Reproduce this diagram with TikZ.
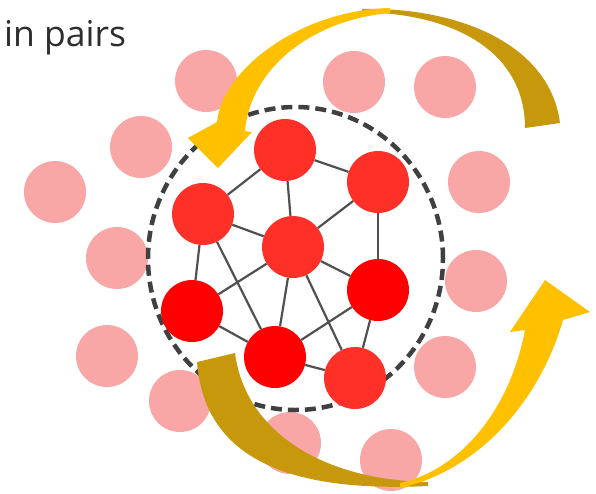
\documentclass[tikz,border=0pt]{standalone}
\usepackage{fontspec}
\setmainfont{Open Sans}
\definecolor{pinkc}{RGB}{248,166,166}
\definecolor{redc}{RGB}{255,48,40}
\definecolor{deepc}{RGB}{255,0,0}
\definecolor{edgec}{RGB}{80,80,80}
\definecolor{dashc}{RGB}{64,64,64}
\definecolor{yellowc}{RGB}{255,192,0}
\definecolor{goldc}{RGB}{200,152,12}
\definecolor{textc}{RGB}{45,45,45}
\begin{document}
\begin{tikzpicture}[x=1pt,y=-1pt,
  pinkdot/.style={circle,fill=pinkc,minimum size=62pt,inner sep=0pt},
  reddot/.style={circle,fill=redc,minimum size=62pt,inner sep=0pt},
  deepdot/.style={circle,fill=deepc,minimum size=62pt,inner sep=0pt},
  link/.style={draw=edgec,line width=2.2pt},
  ring/.style={draw=dashc,line width=4.5pt,dash pattern=on 11pt off 6pt},
  goldband/.style={fill=goldc},
  yellowband/.style={fill=yellowc},
]
\useasboundingbox (0,0) rectangle (596,493);

% title
\node[anchor=base west,inner sep=0pt,text=textc,font=\fontsize{35.5}{42}\selectfont] (title) at (4,46) {in pairs};

% pink (outside) circles
\node[pinkdot] (p1) at (206,81) {};
\node[pinkdot] (p2) at (354,82) {};
\node[pinkdot] (p3) at (445,87) {};
\node[pinkdot] (p4) at (141,147) {};
\node[pinkdot] (p5) at (55,192) {};
\node[pinkdot] (p6) at (479,182) {};
\node[pinkdot] (p7) at (117,258) {};
\node[pinkdot] (p8) at (476,281) {};
\node[pinkdot] (p9) at (107,356) {};
\node[pinkdot] (p10) at (445,367) {};
\node[pinkdot] (p11) at (180,401) {};
\node[pinkdot] (p12) at (290,443) {};
\node[pinkdot] (p13) at (391,460) {};

% dashed boundary
\draw[ring] (295.5,258.5) ellipse [x radius=147.5pt, y radius=151.5pt];

% red (inside) circles
\node[reddot] (A) at (285,150) {};
\node[reddot] (B) at (378,182) {};
\node[reddot] (C) at (203,214) {};
\node[reddot] (D) at (293,247) {};
\node[deepdot] (E) at (378,290) {};
\node[deepdot] (F) at (192,311) {};
\node[deepdot] (G) at (275,357) {};
\node[reddot] (H) at (355,378) {};

% links
\draw[link] (A) -- (C);
\draw[link] (A) -- (B);
\draw[link] (A) -- (D);
\draw[link] (B) -- (D);
\draw[link] (B) -- (E);
\draw[link] (C) -- (D);
\draw[link] (C) -- (F);
\draw[link] (C) -- (G);
\draw[link] (D) -- (F);
\draw[link] (D) -- (G);
\draw[link] (D) -- (E);
\draw[link] (D) -- (H);
\draw[link] (F) -- (G);
\draw[link] (G) -- (E);
\draw[link] (G) -- (H);
\draw[link] (E) -- (H);

% top curved arrow
\fill[goldband] (560,123) .. controls (550,45) and (460,7) .. (362,9)
  -- (362,12) .. controls (460,14) and (525,55) .. (525,128) -- cycle;
\fill[yellowband] (390,8) .. controls (300,10) and (222,70) .. (217,122)
  -- (188,138) -- (218,168) -- (252,132) -- (245,131)
  .. controls (250,70) and (310,20) .. (390,13) -- cycle;

% bottom curved arrow
\fill[goldband] (197,362) .. controls (205,465) and (300,492) .. (428,486)
  -- (428,482) .. controls (320,480) and (245,430) .. (235,353) -- cycle;
\fill[yellowband] (400,488) .. controls (480,470) and (540,400) .. (563,320)
  -- (590,312) -- (545,280) -- (510,332) -- (525,330)
  .. controls (510,410) and (460,470) .. (400,483) -- cycle;
\end{tikzpicture}
\end{document}
